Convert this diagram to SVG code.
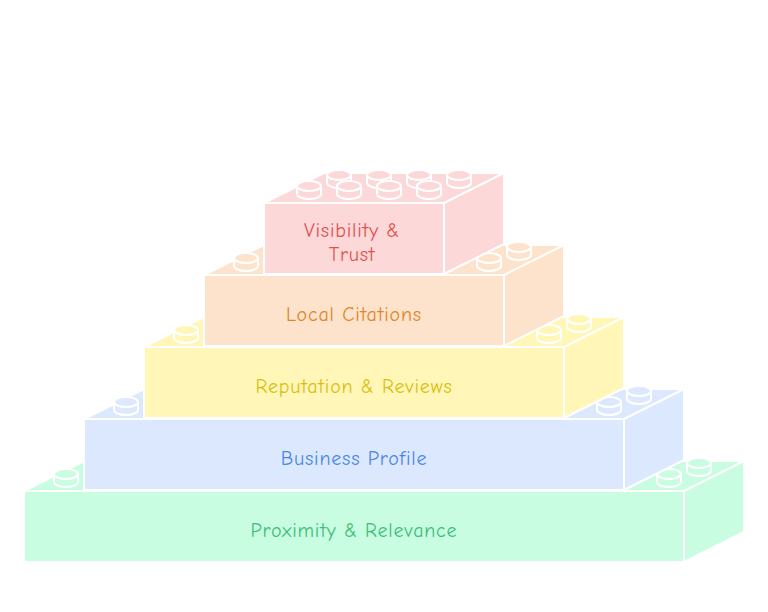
<svg xmlns="http://www.w3.org/2000/svg" width="768" height="612" viewBox="0 0 768 612">
<defs>
<style>
.f{stroke:#fff;stroke-width:2;stroke-linejoin:round}
.s{stroke:#fff;stroke-width:2}
text{font-family:"Comic Neue","Lato","Liberation Sans",sans-serif;font-size:20px;letter-spacing:0.8px;text-anchor:middle}
</style>
<g id="stud"><path class="s" d="M-12,0 V8 A12 5 0 0 0 12,8 V0"/><ellipse class="s" cx="0" cy="0" rx="12" ry="5"/></g>
</defs>
<rect width="768" height="612" fill="#fff"/>
<g id="b1" fill="#c8fde1">
<path class="f" d="M24,491 L84,461 L744,461 L684,491Z M684,491 L744,461 L744,532 L684,562Z"/>
<rect class="f" x="24" y="491" width="660" height="71"/>
<use href="#stud" x="66" y="474"/><use href="#stud" x="669" y="474"/><use href="#stud" x="699" y="463"/>
<text x="354" y="537" fill="#3dbf7a">Proximity &amp; Relevance</text>
</g>
<g id="b2" fill="#dce8fd">
<path class="f" d="M84,419 L144,389 L684,389 L624,419Z M624,419 L684,389 L684,460 L624,490Z"/>
<rect class="f" x="84" y="419" width="540" height="71"/>
<use href="#stud" x="126" y="402"/><use href="#stud" x="609" y="402"/><use href="#stud" x="639" y="391"/>
<text x="354" y="465" fill="#4a86e8">Business Profile</text>
</g>
<g id="b3" fill="#fff6b8">
<path class="f" d="M144,347 L204,317 L624,317 L564,347Z M564,347 L624,317 L624,388 L564,418Z"/>
<rect class="f" x="144" y="347" width="420" height="71"/>
<use href="#stud" x="186" y="330"/><use href="#stud" x="549" y="330"/><use href="#stud" x="579" y="319"/>
<text x="354" y="393" fill="#d9c010">Reputation &amp; Reviews</text>
</g>
<g id="b4" fill="#fde3cb">
<path class="f" d="M204,275 L264,245 L564,245 L504,275Z M504,275 L564,245 L564,316 L504,346Z"/>
<rect class="f" x="204" y="275" width="300" height="71"/>
<use href="#stud" x="246" y="258"/><use href="#stud" x="489" y="258"/><use href="#stud" x="519" y="247"/>
<text x="354" y="321" fill="#e0862a">Local Citations</text>
</g>
<g id="b5" fill="#fdd8d8">
<path class="f" d="M264,203 L324,173 L504,173 L444,203Z M444,203 L504,173 L504,244 L444,274Z"/>
<use href="#stud" x="339" y="175"/><use href="#stud" x="379" y="175"/><use href="#stud" x="419" y="175"/><use href="#stud" x="459" y="175"/>
<use href="#stud" x="309" y="186"/><use href="#stud" x="349" y="186"/><use href="#stud" x="389" y="186"/><use href="#stud" x="429" y="186"/>
<rect class="f" x="264" y="203" width="180" height="71"/>
<text x="352" y="237" fill="#e05252">Visibility &amp;</text>
<text x="352" y="261" fill="#e05252">Trust</text>
</g>
</svg>
